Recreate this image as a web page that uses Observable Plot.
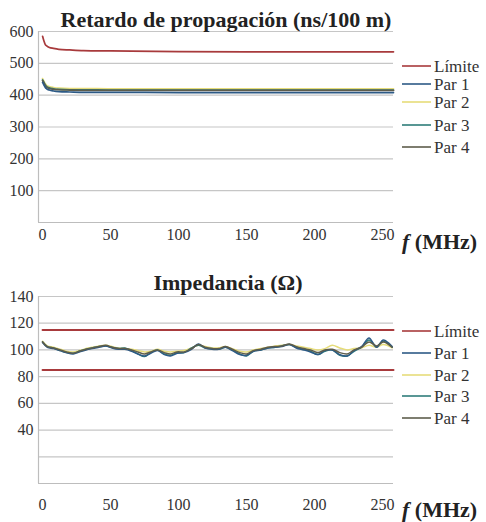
<!DOCTYPE html>
<html><head><meta charset="utf-8">
<script src="https://cdn.jsdelivr.net/npm/d3@7"></script>
<script src="https://cdn.jsdelivr.net/npm/@observablehq/plot@0.6"></script>
<style>
html,body{margin:0;padding:0;background:#fff;}
#root{position:relative;width:486px;height:522px;overflow:hidden;font-family:"Liberation Serif","DejaVu Serif",serif;}
#root svg{position:absolute;left:0;}
#root svg text{font-family:"Liberation Serif","DejaVu Serif",serif;}
</style></head>
<body><div id="root"></div>
<script>
// ---------- data ----------
const seriesNames = ["Límite", "Par 1", "Par 2", "Par 3", "Par 4"];
const seriesColors = ["#a83a3c", "#2d5a86", "#e6dc7a", "#2f7d7a", "#5e5d4c"];
const xTicks = [0, 50, 100, 150, 200, 250];

// Retardo de propagación (ns/100 m)
const freqDelay = [0, 1, 2, 3, 5, 8, 12, 20, 30, 50, 100, 150, 200, 258];
const delayLimit = [585, 570, 559, 555, 550, 547, 544, 542, 540, 539, 537, 536, 536, 536];
const delayPar1 = [440, 432, 424, 420, 416, 413, 411, 410, 409, 409, 408, 408, 408, 408];
const delayPar2 = [452, 444, 436, 431, 427, 424, 422, 421, 421, 420, 420, 420, 420, 420];
const delayPar3 = [448, 440, 432, 427, 423, 420, 418, 417, 417, 416, 416, 416, 416, 416];
const delayPar4 = [446, 438, 430, 425, 421, 418, 417, 416, 415, 415, 415, 415, 415, 415];
const delayTicks = [100, 200, 300, 400, 500, 600];

// Impedancia (Ω)
const freqImp = [0,3.5,8,13,17.5,22.5,27,32,36.5,41.5,46.5,51,56,60.5,65.5,70,75,79.5,84.5,89.5,94,99,104,109.5,114.5,119.5,124.5,129.5,134.5,139.5,145,150,155,160.5,165.5,171,176,181.5,186.5,192,197,202.5,207.5,213,218.5,224,229,234.5,240,245.5,250.5,257];
const impPar1 = [105.5,102,101,99.5,98,97,98.5,100,101,102,103,101.5,100.5,100.5,99,97,95.5,97.5,99.5,96.5,95.5,97.5,98,100.5,104.5,101.5,100.5,100.5,102,99.5,96.5,96,99,100,101.5,102,102.5,104,101.5,100,98.5,96.5,99.5,100,96.5,95.5,99.5,102.5,109,102,107.5,102.5];
const impPar2 = [106.5,103,102,100.5,99,98.5,99.5,101,102,103,103.5,102.5,101.5,101,100.5,99.5,98.5,99,100.5,99,98.5,99,99.5,101.5,103.5,102.5,101.5,101.5,102.5,101,99,98.5,100,101,102,103,103.5,104,103,102,101,100,101,103.5,101.5,100,101,101.5,103.5,102,104,101.5];
const impPar3 = [106,102.5,101.5,99.5,98,97.5,99,100.5,101.5,102.5,103,102,101,101.5,99.5,97,95,98,100,97,96,98,98,101.5,103.5,101.5,101,100.5,102,100,97,95.5,99,100,101.5,102,103,104,102,100.5,99,96.5,99,100,96,95.5,99,102,107.5,102.5,106.5,102];
const impPar4 = [106,102.5,101.5,100,98.5,97.5,99,100.5,101.5,102.5,103.5,102,101,101,100,98.5,97,98.5,100,98,97,98.5,98.5,101,104,102,101,101,102.5,100.5,98,97,99.5,100.5,102,102.5,103,104.5,102.5,101,100,98,100,100.5,98,97,100,102,106,103,106,102];
const freqImpLimit = [0, 258];
const impUpper = [115, 115];
const impLower = [85, 85];
const impGrid = [20, 40, 60, 80, 100, 120, 140];
const impTicks = [40, 60, 80, 100, 120, 140];

// ---------- build tables ----------
function rows(xs, ys, s) { return xs.map((x, i) => ({f: x, v: ys[i], s})); }
const delayData = [
  ...rows(freqDelay, delayPar2, "Par 2"),
  ...rows(freqDelay, delayPar3, "Par 3"),
  ...rows(freqDelay, delayPar4, "Par 4"),
  ...rows(freqDelay, delayPar1, "Par 1"),
  ...rows(freqDelay, delayLimit, "Límite")
];
const impData = [
  ...rows(freqImp, impPar2, "Par 2"),
  ...rows(freqImp, impPar3, "Par 3"),
  ...rows(freqImp, impPar1, "Par 1"),
  ...rows(freqImp, impPar4, "Par 4")
];
const impLimits = [
  ...rows(freqImpLimit, impUpper, "sup"),
  ...rows(freqImpLimit, impLower, "inf")
];

const FONT = '"Liberation Serif", "DejaVu Serif", serif';
const xScale = {domain: [-3, 258], label: null};
const colorScale = {domain: seriesNames, range: seriesColors};
const gridStyle = {stroke: "#c6c6c6", strokeOpacity: 1, strokeWidth: 1.2};
const axisLine = {stroke: "#bdbdbd", strokeWidth: 1.2};

const root = document.getElementById("root");

// chart 1
const p1 = Plot.plot({
  width: 486, height: 250,
  marginLeft: 38, marginRight: 93, marginTop: 31, marginBottom: 28,
  style: {fontFamily: FONT, fontSize: "16px", color: "#333", background: "transparent", overflow: "visible"},
  x: xScale,
  y: {domain: [0, 600], label: null},
  color: colorScale,
  marks: [
    Plot.gridY(delayTicks, gridStyle),
    Plot.ruleY([0], axisLine),
    Plot.ruleX([-3], axisLine),
    Plot.axisY(delayTicks, {tickSize: 0, tickPadding: 5, fontSize: 16, label: null}),
    Plot.axisX(xTicks, {tickSize: 0, tickPadding: 6, fontSize: 16, label: null}),
    Plot.line(delayData, {x: "f", y: "v", z: "s", stroke: "s", strokeWidth: 1.7, curve: "monotone-x"})
  ]
});
p1.style.top = "0px";
root.appendChild(p1);

// chart 2
const p2 = Plot.plot({
  width: 486, height: 272,
  marginLeft: 38, marginRight: 93, marginTop: 46, marginBottom: 39,
  style: {fontFamily: FONT, fontSize: "16px", color: "#333", background: "transparent", overflow: "visible"},
  x: xScale,
  y: {domain: [0, 140], label: null},
  color: colorScale,
  marks: [
    Plot.gridY(impGrid, gridStyle),
    Plot.ruleY([0], axisLine),
    Plot.ruleX([-3], axisLine),
    Plot.axisY(impTicks, {tickSize: 0, tickPadding: 5, fontSize: 16, label: null}),
    Plot.axisX(xTicks, {tickSize: 0, tickPadding: 15, fontSize: 16, label: null}),
    Plot.line(impLimits, {x: "f", y: "v", z: "s", stroke: seriesColors[0], strokeWidth: 2}),
    Plot.line(impData, {x: "f", y: "v", z: "s", stroke: "s", strokeWidth: 1.5, curve: "catmull-rom"})
  ]
});
p2.style.top = "250px";
root.appendChild(p2);

// titles, unit labels and legends
const ov = d3.create("svg").attr("width", 486).attr("height", 522)
  .style("top", "0px").attr("font-family", FONT).style("pointer-events", "none");
ov.append("text").attr("x", 226).attr("y", 27).attr("text-anchor", "middle")
  .attr("font-size", 22).attr("font-weight", "bold").attr("fill", "#222").text("Retardo de propagación (ns/100 m)");
ov.append("text").attr("x", 228).attr("y", 290).attr("text-anchor", "middle")
  .attr("font-size", 22).attr("font-weight", "bold").attr("fill", "#222").text("Impedancia (Ω)");
for (const y of [249, 517]) {
  const t = ov.append("text").attr("x", 402).attr("y", y).attr("font-size", 22).attr("font-weight", "bold").attr("fill", "#222");
  t.append("tspan").attr("font-style", "italic").text("f");
  t.append("tspan").text(" (MHz)");
}
function legend(ys) {
  seriesNames.forEach((name, i) => {
    ov.append("line").attr("x1", 402).attr("x2", 431).attr("y1", ys[i]).attr("y2", ys[i])
      .attr("stroke", seriesColors[i]).attr("stroke-width", 1.6);
    ov.append("text").attr("x", 434).attr("y", ys[i]).attr("dy", "0.33em")
      .attr("font-size", 17).attr("fill", "#333").text(name);
  });
}
legend([66, 84, 102, 125, 147]);
legend([331, 353, 375, 396, 418]);
root.appendChild(ov.node());
</script>
</body></html>
